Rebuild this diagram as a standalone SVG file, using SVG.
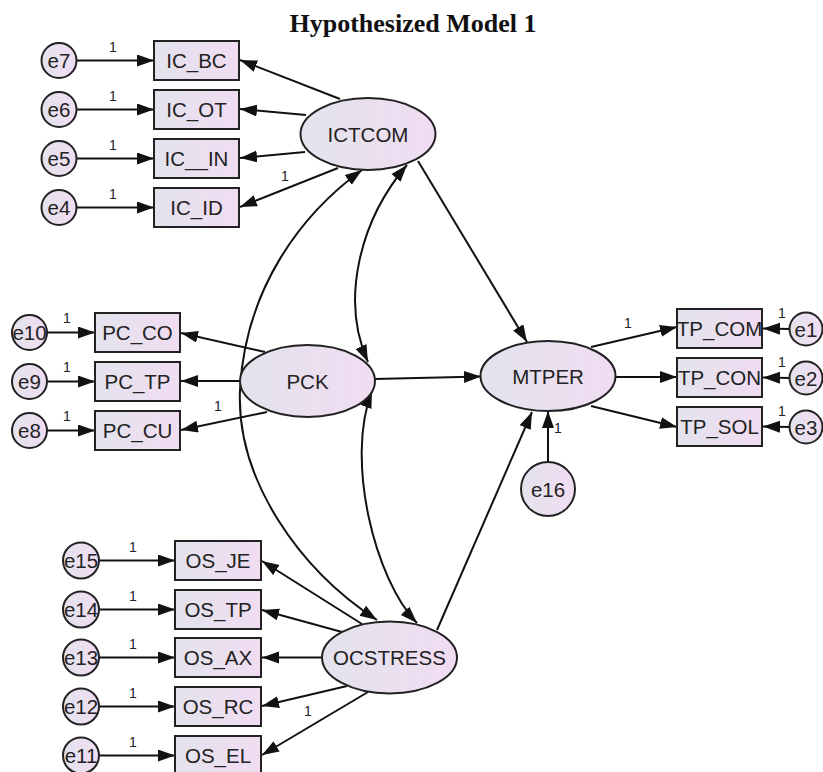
<svg xmlns="http://www.w3.org/2000/svg" width="823" height="772" viewBox="0 0 823 772">
<defs>
<linearGradient id="g" x1="0" y1="0" x2="1" y2="0">
<stop offset="0" stop-color="#e3e3ed"/>
<stop offset="1" stop-color="#f1dcf2"/>
</linearGradient>
<marker id="ah" markerUnits="userSpaceOnUse" markerWidth="18" markerHeight="13" refX="17" refY="6" orient="auto-start-reverse">
<path d="M0,0 L17,6 L0,12 z" fill="#111"/>
</marker>
</defs>
<style>
.n{fill:url(#g);stroke:#222;stroke-width:2}
.t{font-family:"Liberation Sans",Arial,sans-serif;font-size:20.5px;fill:#222;text-anchor:middle}
.o{font-family:"Liberation Sans",Arial,sans-serif;font-size:14px;fill:#222;text-anchor:middle}
.c line,.c path{stroke:#111;stroke-width:2;fill:none;marker-end:url(#ah)}
.c .d{marker-start:url(#ah)}
</style>
<rect width="823" height="772" fill="#fff"/>
<text x="413" y="32" font-family="'Liberation Serif','Times New Roman',serif" font-size="26" font-weight="bold" text-anchor="middle" fill="#111">Hypothesized Model 1</text>

<g id="connectors" class="c">
<line x1="77" y1="60.5" x2="154" y2="60.5"/>
<line x1="77" y1="109.5" x2="154" y2="109.5"/>
<line x1="77" y1="158.5" x2="154" y2="158.5"/>
<line x1="77" y1="207.5" x2="154" y2="207.5"/>
<line x1="340" y1="99" x2="240" y2="60"/>
<line x1="306" y1="115" x2="240" y2="109"/>
<line x1="305" y1="152" x2="240" y2="158"/>
<line x1="338" y1="168" x2="240" y2="207"/>
<line x1="47" y1="332.5" x2="95" y2="332.5"/>
<line x1="47" y1="381.5" x2="95" y2="381.5"/>
<line x1="47" y1="430.5" x2="95" y2="430.5"/>
<line x1="265" y1="352" x2="181" y2="333"/>
<line x1="240" y1="381" x2="181" y2="381"/>
<line x1="267" y1="412" x2="181" y2="430"/>
<line x1="99" y1="560.5" x2="175" y2="560.5"/>
<line x1="99" y1="609.5" x2="175" y2="609.5"/>
<line x1="99" y1="657.5" x2="175" y2="657.5"/>
<line x1="99" y1="706.5" x2="175" y2="706.5"/>
<line x1="99" y1="755.5" x2="175" y2="755.5"/>
<line x1="362" y1="624" x2="262" y2="561"/>
<line x1="342" y1="632" x2="262" y2="610"/>
<line x1="322" y1="657.5" x2="262" y2="657.5"/>
<line x1="347" y1="686" x2="262" y2="706"/>
<line x1="368" y1="692" x2="262" y2="755"/>
<line x1="418" y1="161" x2="527" y2="342"/>
<line x1="375" y1="379" x2="481" y2="376.5"/>
<line x1="437" y1="630" x2="532" y2="412"/>
<line x1="548" y1="462" x2="548" y2="411"/>
<line x1="591" y1="347" x2="677" y2="327"/>
<line x1="616" y1="377" x2="677" y2="377"/>
<line x1="591" y1="406" x2="677" y2="427"/>
<line x1="790" y1="329" x2="763" y2="328.5"/>
<line x1="790" y1="378" x2="763" y2="377.5"/>
<line x1="790" y1="427" x2="763" y2="426.5"/>
<path class="d" d="M362,170 C300,215 245,290 240,390 C236,480 300,570 377,620"/>
<path class="d" d="M407,165 C360,220 340,300 368,362"/>
<path class="d" d="M372,391 C345,460 375,580 417,623"/>
</g>

<g class="o">
<text x="113" y="52">1</text>
<text x="113" y="101">1</text>
<text x="113" y="150">1</text>
<text x="113" y="199">1</text>
<text x="285" y="181">1</text>
<text x="67" y="323">1</text>
<text x="67" y="372">1</text>
<text x="67" y="421">1</text>
<text x="218" y="411">1</text>
<text x="133" y="552">1</text>
<text x="133" y="601">1</text>
<text x="133" y="649">1</text>
<text x="133" y="698">1</text>
<text x="133" y="747">1</text>
<text x="308" y="716">1</text>
<text x="628" y="328">1</text>
<text x="782" y="318">1</text>
<text x="782" y="367">1</text>
<text x="782" y="416">1</text>
<text x="558" y="433">1</text>
</g>

<g id="e7"><circle class="n" cx="59" cy="60.5" r="17.5"/><text class="t" x="59" y="68">e7</text></g>
<g id="e6"><circle class="n" cx="59" cy="109.5" r="17.5"/><text class="t" x="59" y="117">e6</text></g>
<g id="e5"><circle class="n" cx="59" cy="158.5" r="17.5"/><text class="t" x="59" y="166">e5</text></g>
<g id="e4"><circle class="n" cx="59" cy="207.5" r="17.5"/><text class="t" x="59" y="215">e4</text></g>
<g id="IC_BC"><rect class="n" x="154" y="41" width="85" height="39"/><text class="t" x="196.5" y="68">IC_BC</text></g>
<g id="IC_OT"><rect class="n" x="154" y="90" width="85" height="39"/><text class="t" x="196.5" y="117">IC_OT</text></g>
<g id="IC_IN"><rect class="n" x="154" y="139" width="85" height="39"/><text class="t" x="196.5" y="166">IC__IN</text></g>
<g id="IC_ID"><rect class="n" x="154" y="188" width="85" height="39"/><text class="t" x="196.5" y="215">IC_ID</text></g>
<g id="ICTCOM"><ellipse class="n" cx="368" cy="134" rx="67.5" ry="36"/><text class="t" x="368" y="141.5">ICTCOM</text></g>

<g id="e10"><circle class="n" cx="29.5" cy="332.5" r="17.5"/><text class="t" x="29.5" y="340">e10</text></g>
<g id="e9"><circle class="n" cx="29.5" cy="381.5" r="17.5"/><text class="t" x="29.5" y="389">e9</text></g>
<g id="e8"><circle class="n" cx="29.5" cy="430.5" r="17.5"/><text class="t" x="29.5" y="438">e8</text></g>
<g id="PC_CO"><rect class="n" x="95" y="313" width="85" height="39"/><text class="t" x="137.5" y="340">PC_CO</text></g>
<g id="PC_TP"><rect class="n" x="95" y="362" width="85" height="39"/><text class="t" x="137.5" y="389">PC_TP</text></g>
<g id="PC_CU"><rect class="n" x="95" y="411" width="85" height="39"/><text class="t" x="137.5" y="438">PC_CU</text></g>
<g id="PCK"><ellipse class="n" cx="307.5" cy="381" rx="67.5" ry="36"/><text class="t" x="307.5" y="388.5">PCK</text></g>

<g id="e15"><circle class="n" cx="81" cy="560.5" r="18"/><text class="t" x="81" y="568">e15</text></g>
<g id="e14"><circle class="n" cx="81" cy="609.5" r="18"/><text class="t" x="81" y="617">e14</text></g>
<g id="e13"><circle class="n" cx="81" cy="657.5" r="18"/><text class="t" x="81" y="665">e13</text></g>
<g id="e12"><circle class="n" cx="81" cy="706.5" r="18"/><text class="t" x="81" y="714">e12</text></g>
<g id="e11"><circle class="n" cx="81" cy="755.5" r="18"/><text class="t" x="81" y="763">e11</text></g>
<g id="OS_JE"><rect class="n" x="175" y="541" width="86" height="39"/><text class="t" x="218" y="568">OS_JE</text></g>
<g id="OS_TP"><rect class="n" x="175" y="590" width="86" height="39"/><text class="t" x="218" y="617">OS_TP</text></g>
<g id="OS_AX"><rect class="n" x="175" y="638" width="86" height="39"/><text class="t" x="218" y="665">OS_AX</text></g>
<g id="OS_RC"><rect class="n" x="175" y="687" width="86" height="39"/><text class="t" x="218" y="714">OS_RC</text></g>
<g id="OS_EL"><rect class="n" x="175" y="736" width="86" height="39"/><text class="t" x="218" y="763">OS_EL</text></g>
<g id="OCSTRESS"><ellipse class="n" cx="389.5" cy="657.5" rx="67.5" ry="36"/><text class="t" x="389.5" y="665">OCSTRESS</text></g>

<g id="MTPER"><ellipse class="n" cx="548" cy="376" rx="67.5" ry="35"/><text class="t" x="548" y="383.5">MTPER</text></g>
<g id="e16"><circle class="n" cx="548" cy="489" r="27"/><text class="t" x="548" y="496.5">e16</text></g>
<g id="TP_COM"><rect class="n" x="677" y="309" width="85" height="39"/><text class="t" x="719.5" y="336">TP_COM</text></g>
<g id="TP_CON"><rect class="n" x="677" y="358" width="85" height="39"/><text class="t" x="719.5" y="385">TP_CON</text></g>
<g id="TP_SOL"><rect class="n" x="677" y="407" width="85" height="39"/><text class="t" x="719.5" y="434">TP_SOL</text></g>
<g id="e1"><circle class="n" cx="806" cy="329" r="16.5"/><text class="t" x="806" y="336.5">e1</text></g>
<g id="e2"><circle class="n" cx="806" cy="378" r="16.5"/><text class="t" x="806" y="385.5">e2</text></g>
<g id="e3"><circle class="n" cx="806" cy="427" r="16.5"/><text class="t" x="806" y="434.5">e3</text></g>
</svg>
